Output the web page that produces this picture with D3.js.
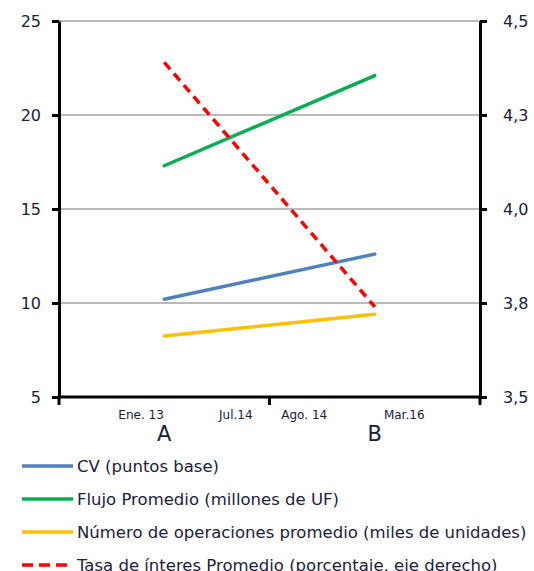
<!DOCTYPE html>
<html>
<head>
<meta charset="utf-8">
<script src="https://cdn.jsdelivr.net/npm/d3@7"></script>
<style>
  body { margin: 0; background: #fff; }
  svg { display: block; font-family: "DejaVu Sans", sans-serif; }
</style>
</head>
<body>
<div id="chart"></div>
<script>
const categories = ['A', 'B'];
const dateLabels = ['Ene. 13', 'Jul.14', 'Ago. 14', 'Mar.16'];
const cv = [10.2, 12.6];
const flujo = [17.3, 22.1];
const operaciones = [8.25, 9.4];
const tasa = [4.39, 3.74];
const leftTicks = [5, 10, 15, 20, 25];
const rightTicks = [3.5, 3.75, 4.0, 4.25, 4.5];

const series = [
  { name: 'CV (puntos base)', values: cv, color: '#4F81BD', axis: 'left' },
  { name: 'Flujo Promedio (millones de UF)', values: flujo, color: '#00B050', axis: 'left' },
  { name: 'Número de operaciones promedio (miles de unidades)', values: operaciones, color: '#FFC000', axis: 'left' },
  { name: 'Tasa de ínteres Promedio (porcentaje, eje derecho)', values: tasa, color: '#FF0000', axis: 'right', dashed: true }
];

const width = 534, height = 571;
const plotLeft = 59, plotRight = 480, plotTop = 21, plotBottom = 397;
const textColor = '#20203a';
// where the date labels sit, in band units from the left edge
const datePos = [0.39, 0.84, 1.165, 1.64];

const svg = d3.select('#chart').append('svg')
  .attr('width', width).attr('height', height);

const x = d3.scaleBand().domain(categories).range([plotLeft, plotRight]);
const y = d3.scaleLinear().domain([5, 25]).range([plotBottom, plotTop]);
const yR = d3.scaleLinear().domain([3.5, 4.5]).range([plotBottom, plotTop]);

const es = d3.formatLocale({ decimal: ',', thousands: '.', grouping: [3], currency: ['$', ''] });

// grid
svg.append('g').selectAll('line')
  .data(leftTicks.filter(d => d > 5))
  .join('line')
  .attr('x1', plotLeft).attr('x2', plotRight)
  .attr('y1', d => y(d)).attr('y2', d => y(d))
  .attr('stroke', '#a3a3a3').attr('stroke-width', 1.5);

// series
const line = (scale) => d3.line()
  .x((d, i) => x(categories[i]) + x.bandwidth() / 2)
  .y(d => scale(d));

svg.append('g').selectAll('path')
  .data(series)
  .join('path')
  .attr('d', s => line(s.axis === 'right' ? yR : y)(s.values))
  .attr('fill', 'none')
  .attr('stroke', s => s.color)
  .attr('stroke-width', 3.5)
  .attr('stroke-linecap', s => s.dashed ? 'butt' : 'round')
  .attr('stroke-dasharray', s => s.dashed ? '9,6' : null);

// axes
const styleAxis = g => {
  g.select('.domain').attr('stroke', '#000').attr('stroke-width', 3);
  g.selectAll('.tick line').attr('stroke', '#000').attr('stroke-width', 3);
  g.selectAll('.tick text').attr('fill', textColor).attr('font-size', 16)
    .attr('font-family', '"DejaVu Sans", sans-serif');
};

svg.append('g')
  .attr('transform', `translate(${plotLeft},0)`)
  .call(d3.axisLeft(y).tickValues(leftTicks).tickSize(7).tickSizeOuter(0).tickPadding(11))
  .call(styleAxis);

svg.append('g')
  .attr('transform', `translate(${plotRight},0)`)
  .call(d3.axisRight(yR).tickValues(rightTicks).tickSize(7).tickSizeOuter(0).tickPadding(16)
    .tickFormat(es.format('.1f')))
  .call(styleAxis);

// bottom axis, ticks on the band edges
const edges = categories.map(c => x(c)).concat([x.range()[1]]);
const xAxis = svg.append('g');
xAxis.append('line')
  .attr('x1', plotLeft - 1.5).attr('x2', plotRight + 1.5)
  .attr('y1', plotBottom).attr('y2', plotBottom)
  .attr('stroke', '#000').attr('stroke-width', 3);
xAxis.selectAll('.edge')
  .data(edges)
  .join('line')
  .attr('class', 'edge')
  .attr('x1', d => d).attr('x2', d => d)
  .attr('y1', plotBottom).attr('y2', plotBottom + 8)
  .attr('stroke', '#000').attr('stroke-width', 3);

xAxis.selectAll('.date')
  .data(dateLabels)
  .join('text')
  .attr('class', 'date')
  .attr('x', (d, i) => plotLeft + datePos[i] * x.bandwidth())
  .attr('y', plotBottom + 22)
  .attr('text-anchor', 'middle')
  .attr('font-size', 12)
  .attr('fill', textColor)
  .text(d => d);

xAxis.selectAll('.cat')
  .data(categories)
  .join('text')
  .attr('class', 'cat')
  .attr('x', d => x(d) + x.bandwidth() / 2)
  .attr('y', plotBottom + 44)
  .attr('text-anchor', 'middle')
  .attr('font-size', 21)
  .attr('fill', textColor)
  .text(d => d);

// legend
const legend = svg.append('g').attr('transform', 'translate(22,466)');
const item = legend.selectAll('g')
  .data(series)
  .join('g')
  .attr('transform', (d, i) => `translate(0,${i * 33})`);

item.append('line')
  .attr('x1', 0).attr('x2', s => s.dashed ? 46 : 51)
  .attr('stroke', s => s.color)
  .attr('stroke-width', 3.5)
  .attr('stroke-dasharray', s => s.dashed ? '11,6' : null);

item.append('text')
  .attr('x', 55)
  .attr('dy', '0.35em')
  .attr('font-size', 16.5)
  .attr('fill', textColor)
  .text(s => s.name);
</script>
</body>
</html>
